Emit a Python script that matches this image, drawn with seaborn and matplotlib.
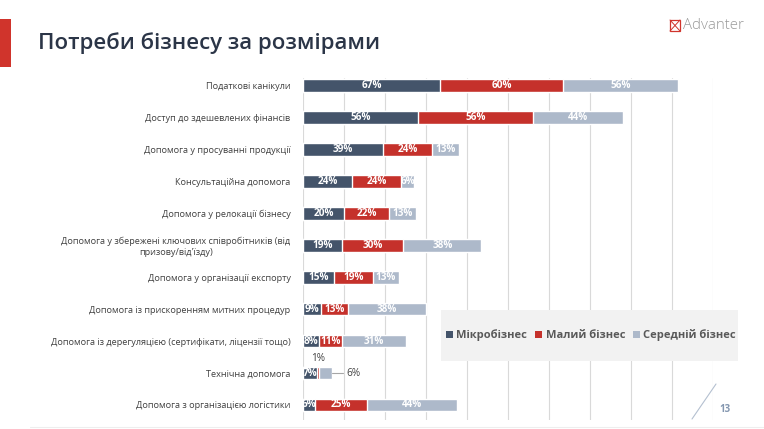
import matplotlib
matplotlib.use("Agg")
import matplotlib.pyplot as plt
import seaborn as sns
import pandas as pd
import numpy as np
from matplotlib.patches import Rectangle, Patch
from matplotlib.lines import Line2D

categories = [
    "Податкові канікули",
    "Доступ до здешевлених фінансів",
    "Допомога у просуванні продукції",
    "Консультаційна допомога",
    "Допомога у релокації бізнесу",
    "Допомога у збережені ключових співробітників (від\nпризову/від'їзду)",
    "Допомога у організації експорту",
    "Допомога із прискоренням митних процедур",
    "Допомога із дерегуляцією (сертифікати, ліцензії тощо)",
    "Технічна допомога",
    "Допомога з організацією логістики",
]
micro = [67, 56, 39, 24, 20, 19, 15, 9, 8, 7, 6]
small = [60, 56, 24, 24, 22, 30, 19, 13, 11, 1, 25]
medium = [56, 44, 13, 6, 13, 38, 13, 38, 31, 6, 44]
series_names = ["Мікробізнес", "Малий бізнес", "Середній бізнес"]
colors = ["#44546A", "#C5312B", "#ADB9CA"]

FONT = ["Open Sans", "DejaVu Sans"]
sns.set_theme(style="white")
plt.rcParams["font.family"] = FONT

df = pd.DataFrame({"cat": categories, "micro": micro, "small": small, "medium": medium})
df["c1"] = df["micro"]
df["c2"] = df["micro"] + df["small"]
df["c3"] = df["c2"] + df["medium"]

fig = plt.figure(figsize=(7.64, 4.29), dpi=100)
fig.patch.set_facecolor("white")
ax = fig.add_axes([303 / 764, 1 - 420 / 429, 410 / 764, 342 / 429])

for col, c in zip(["c3", "c2", "c1"], colors[::-1]):
    sns.barplot(data=df, x=col, y="cat", orient="h", color=c, width=0.4,
                ax=ax, saturation=1, zorder=3)

ax.set_xlim(0, 200)
ax.set_ylim(10.47, -0.23)
ax.set_xticks(np.arange(0, 201, 20))
ax.xaxis.grid(True, color="#D9D9D9", lw=0.8, zorder=0)
ax.set_axisbelow(True)
for s in ax.spines.values():
    s.set_visible(False)
ax.set_xlabel("")
ax.set_ylabel("")
ax.tick_params(axis="x", length=0, labelbottom=False)
ax.tick_params(axis="y", length=0, pad=9)
for t in ax.get_yticklabels():
    t.set_fontsize(6.6)
    t.set_color("#404040")
    t.set_multialignment("center")

# value labels
for i in range(len(categories)):
    starts = [0, df["c1"][i], df["c2"][i]]
    vals = [micro[i], small[i], medium[i]]
    for k in range(3):
        if i == 9 and k > 0:
            continue
        ax.text(starts[k] + vals[k] / 2, i, f"{vals[k]}%", ha="center", va="center",
                color="white", fontsize=7.2, fontweight="bold", zorder=5)
# technical assistance callouts
i = 9
ax.text(df["c1"][i] + small[i] / 2, i - 0.45, f"{small[i]}%", ha="center", va="center",
        color="#404040", fontsize=7.2, zorder=5)
ax.plot([df["c3"][i], df["c3"][i] + 5.5], [i, i], color="#A6A6A6", lw=0.8, zorder=4)
ax.text(df["c3"][i] + 7, i, f"{medium[i]}%", ha="left", va="center",
        color="#404040", fontsize=7.2, zorder=5)

# legend box
fig.patches.append(Rectangle((441 / 764, 1 - 361 / 429), 297 / 764, 51 / 429,
                             transform=fig.transFigure, facecolor="#F2F2F2",
                             edgecolor="none", zorder=2))
handles = [Patch(facecolor=c, edgecolor="none") for c in colors]
leg = fig.legend(handles, series_names, loc="center", ncol=3,
                 bbox_to_anchor=(591 / 764, 1 - 335.5 / 429), frameon=False,
                 prop={"family": FONT, "weight": "bold", "size": 8},
                 handlelength=0.65, handleheight=0.65, handletextpad=0.3,
                 columnspacing=0.7, borderpad=0)
for t in leg.get_texts():
    t.set_color("#595959")
leg.set_zorder(6)

# title & decorations
fig.patches.append(Rectangle((0, 1 - 67 / 429), 11 / 764, 48 / 429,
                             transform=fig.transFigure, facecolor="#D0342C",
                             edgecolor="none"))
fig.text(38 / 764, 1 - 49.5 / 429, "Потреби бізнесу за розмірами", fontsize=16,
         fontweight="semibold", color="#2B3547", ha="left", va="baseline")

# Advanter logo
fig.patches.append(Rectangle((670 / 764, 1 - 31 / 429), 10 / 764, 11 / 429,
                             transform=fig.transFigure, facecolor="none",
                             edgecolor="#D0342C", lw=0.9))
fig.lines.append(Line2D([670 / 764, 680 / 764], [1 - 20 / 429, 1 - 31 / 429],
                        transform=fig.transFigure, color="#D0342C", lw=0.7))
fig.lines.append(Line2D([670 / 764, 680 / 764], [1 - 31 / 429, 1 - 20 / 429],
                        transform=fig.transFigure, color="#D0342C", lw=0.7))
fig.text(683 / 764, 1 - 25.5 / 429, "Advanter", fontsize=10.8, color="#999999",
         ha="left", va="center", fontweight="light")

# page number and diagonal line
fig.lines.append(Line2D([692 / 764, 716 / 764], [1 - 419 / 429, 1 - 384 / 429],
                        transform=fig.transFigure, color="#B4C0D0", lw=0.8))
fig.text(725 / 764, 1 - 410 / 429, "13", fontsize=7, fontweight="bold",
         color="#8497B0", ha="center", va="center")
fig.lines.append(Line2D([30 / 764, 1], [1 - 427 / 429, 1 - 427 / 429],
                        transform=fig.transFigure, color="#EEEEEE", lw=0.8))

fig.savefig("out.png", dpi=100)
